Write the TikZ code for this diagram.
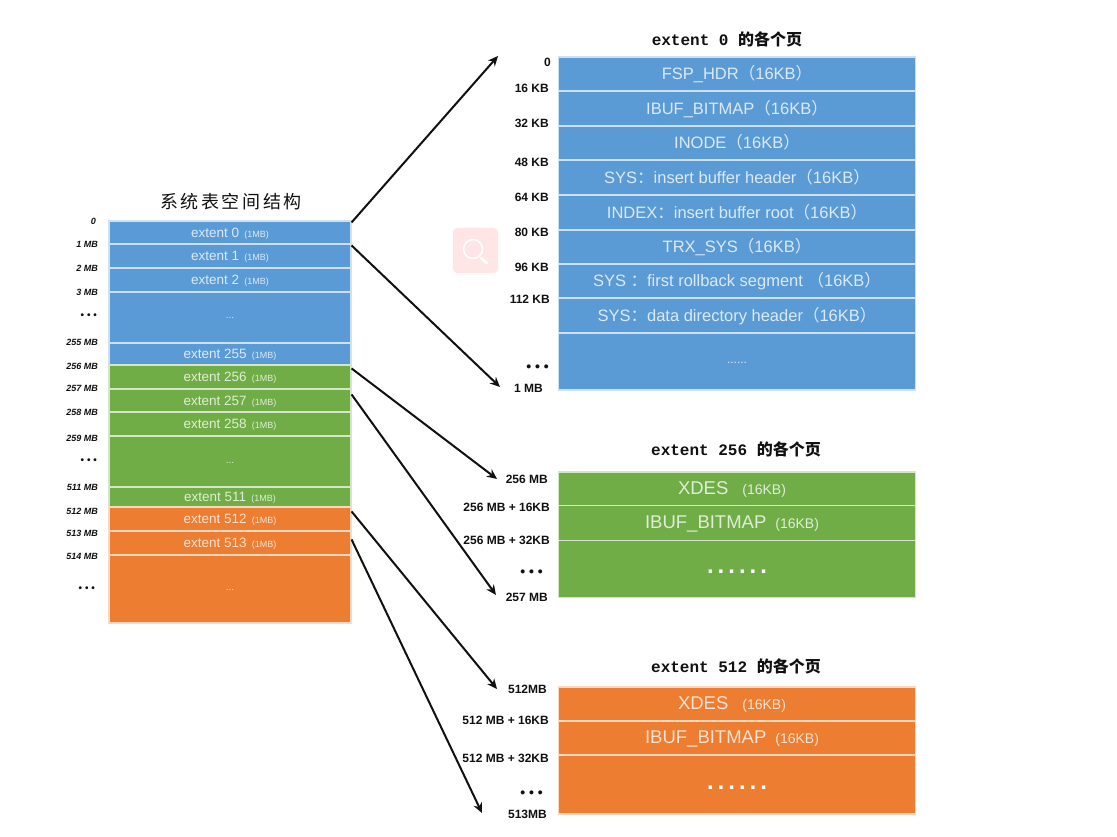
\documentclass[tikz,border=0pt]{standalone}
\usepackage{fontspec}
\setmainfont{Liberation Sans}
\newfontfamily\cjkfont{Noto Sans CJK SC}
\newfontfamily\monofont{Liberation Mono}
\usetikzlibrary{arrows.meta}
\definecolor{extblue}{HTML}{5B9BD5}
\definecolor{extgreen}{HTML}{70AD47}
\definecolor{extorange}{HTML}{ED7D31}
\definecolor{ink}{HTML}{111111}
\newcommand{\fsize}[1]{\fontsize{#1}{#1}\selectfont}
\newcommand{\fw}[1]{{\cjkfont #1}}
\newcommand{\bigdots}{.\hspace{4pt}.\hspace{4pt}.\hspace{4pt}.\hspace{4pt}.\hspace{4pt}.}
\tikzset{
  cell/.style={inner sep=0pt, line width=1.1pt, anchor=center},
  bluecell/.style={cell, fill=extblue, draw=white!70!extblue, text=white!78!extblue},
  greencell/.style={cell, fill=extgreen, draw=white!70!extgreen, text=white!78!extgreen},
  orangecell/.style={cell, fill=extorange, draw=white!70!extorange, text=white!78!extorange},
  extcell/.style={minimum width=242pt, font=\fsize{13.5}, text height=9.5pt, text depth=0pt},
  gapcell/.style={minimum width=242pt, font=\fsize{10}, text height=3pt, text depth=0pt},
  pagecell/.style={minimum width=357pt, font=\fsize{16.5}, text height=13.5pt, text depth=2pt},
  dotcell/.style={minimum width=357pt, font=\fsize{24}\bfseries, text=white, text height=9pt, text depth=0pt},
  leftmark/.style={anchor=east, inner sep=0pt, text=ink, font=\fsize{9}\bfseries\itshape},
  leftdots/.style={anchor=east, inner sep=0pt, text=ink, font=\fsize{10}\bfseries},
  rightmark/.style={anchor=east, inner sep=0pt, text=ink, font=\fsize{12}\bfseries},
  rightdots/.style={anchor=east, inner sep=0pt, text=ink, font=\fsize{14}\bfseries},
  heading/.style={inner sep=0pt, text=ink, font=\fsize{16}\monofont\bfseries},
  link/.style={-{Stealth[length=10pt,width=9pt]}, ink, line width=2pt}
}
\newcommand{\mbtag}{{\fsize{9}\,(1MB)}}
\newcommand{\kbtag}{{\fsize{14}(16KB)}\hspace*{10pt}\null}
\begin{document}
\begin{tikzpicture}[x=1pt, y=-1pt]
  \useasboundingbox (0,0) rectangle (1117,837);
  \fill[white] (0,0) rectangle (1117,837);

  % left stack
  \node[font=\fsize{18}\cjkfont\addfontfeature{LetterSpace=14}, text=ink, inner sep=0pt] (stacktitle) at (231,202) {系统表空间结构};
  \node[bluecell, extcell, minimum height=23pt] (e0) at (230,232.5) {extent 0 \mbtag};
  \node[bluecell, extcell, minimum height=24pt] (e1) at (230,256) {extent 1 \mbtag};
  \node[bluecell, extcell, minimum height=24pt] (e2) at (230,280) {extent 2 \mbtag};
  \node[bluecell, gapcell, minimum height=51pt] (e3) at (230,317.5) {...};
  \node[bluecell, extcell, minimum height=22pt] (e255) at (230,354) {extent 255 \mbtag};
  \node[greencell, extcell, minimum height=24pt] (e256) at (230,377) {extent 256 \mbtag};
  \node[greencell, extcell, minimum height=23pt] (e257) at (230,400.5) {extent 257 \mbtag};
  \node[greencell, extcell, minimum height=24pt] (e258) at (230,424) {extent 258 \mbtag};
  \node[greencell, gapcell, minimum height=51pt] (e259) at (230,461.5) {...};
  \node[greencell, extcell, minimum height=20pt] (e511) at (230,497) {extent 511 \mbtag};
  \node[orangecell, extcell, minimum height=24pt] (e512) at (230,519) {extent 512 \mbtag};
  \node[orangecell, extcell, minimum height=24pt] (e513) at (230,543) {extent 513 \mbtag};
  \node[orangecell, gapcell, minimum height=68pt] (e514) at (230,589) {...};

  % left offsets
  \node[leftmark] (m0) at (96,221.5) {0};
  \node[leftmark] (m1) at (98,244) {1 MB};
  \node[leftmark] (m2) at (98,268) {2 MB};
  \node[leftmark] (m3) at (98,292) {3 MB};
  \node[leftdots] (mdots1) at (97,316.5) {• • •};
  \node[leftmark] (m255) at (98,342) {255 MB};
  \node[leftmark] (m256) at (98,366) {256 MB};
  \node[leftmark] (m257) at (98,388) {257 MB};
  \node[leftmark] (m258) at (98,412.5) {258 MB};
  \node[leftmark] (m259) at (98,438) {259 MB};
  \node[leftdots] (mdots2) at (97,461.5) {• • •};
  \node[leftmark] (m511) at (98,487) {511 MB};
  \node[leftmark] (m512) at (98,511) {512 MB};
  \node[leftmark] (m513) at (98,533) {513 MB};
  \node[leftmark] (m514) at (98,556) {514 MB};
  \node[leftdots] (mdots3) at (95,589.5) {• • •};

  % extent 0 pages
  \node[heading] (title0) at (727,39.5) {extent 0 {\cjkfont\bfseries 的各个页}};
  \node[bluecell, pagecell, minimum height=34pt] (p0) at (737,74) {FSP\_HDR\fw{（}16KB\fw{）}};
  \node[bluecell, pagecell, minimum height=35pt] (p1) at (737,108.5) {IBUF\_BITMAP\fw{（}16KB\fw{）}};
  \node[bluecell, pagecell, minimum height=34pt] (p2) at (737,143) {INODE\fw{（}16KB\fw{）}};
  \node[bluecell, pagecell, minimum height=35pt] (p3) at (737,177.5) {SYS\fw{：}insert buffer header\fw{（}16KB\fw{）}};
  \node[bluecell, pagecell, minimum height=35pt] (p4) at (737,212.5) {INDEX\fw{：}insert buffer root\fw{（}16KB\fw{）}};
  \node[bluecell, pagecell, minimum height=34pt] (p5) at (737,247) {TRX\_SYS\fw{（}16KB\fw{）}};
  \node[bluecell, pagecell, minimum height=34pt] (p6) at (737,281) {SYS \fw{：}first rollback segment \fw{（}16KB\fw{）}};
  \node[bluecell, pagecell, minimum height=35pt] (p7) at (737,315.5) {SYS\fw{：}data directory header\fw{（}16KB\fw{）}};
  \node[bluecell, pagecell, minimum height=57pt, font=\fsize{12}, text height=4pt, text depth=0pt] (p8) at (737,361.5) {......};
  \node[rightmark] (k0) at (551,62) {0};
  \node[rightmark] (k16) at (549,88) {16 KB};
  \node[rightmark] (k32) at (549,123) {32 KB};
  \node[rightmark] (k48) at (549,162) {48 KB};
  \node[rightmark] (k64) at (549,197) {64 KB};
  \node[rightmark] (k80) at (549,232) {80 KB};
  \node[rightmark] (k96) at (549,267) {96 KB};
  \node[rightmark] (k112) at (550,299) {112 KB};
  \node[rightdots] (kdots) at (549,368) {• • •};
  \node[rightmark] (k1m) at (543,388) {1 MB};

  % extent 256 pages
  \node[heading] (title256) at (736,449.5) {extent 256 {\cjkfont\bfseries 的各个页}};
  \node[greencell, pagecell, minimum height=34pt, font=\fsize{18.5}] (g0) at (737,489) {XDES\hspace{14pt}\kbtag};
  \node[greencell, pagecell, minimum height=35pt, font=\fsize{18.5}] (g1) at (737,523) {IBUF\_BITMAP\hspace{9pt}\kbtag};
  \node[greencell, dotcell, minimum height=57pt] (g2) at (737,569) {\bigdots};
  \node[rightmark] (gm0) at (548,479) {256 MB};
  \node[rightmark] (gm1) at (550,507) {256 MB + 16KB};
  \node[rightmark] (gm2) at (550,540) {256 MB + 32KB};
  \node[rightdots] (gdots) at (543,573) {• • •};
  \node[rightmark] (gm3) at (548,597) {257 MB};

  % extent 512 pages
  \node[heading] (title512) at (736,666.5) {extent 512 {\cjkfont\bfseries 的各个页}};
  \node[orangecell, pagecell, minimum height=34pt, font=\fsize{18.5}] (o0) at (737,704) {XDES\hspace{14pt}\kbtag};
  \node[orangecell, pagecell, minimum height=34pt, font=\fsize{18.5}] (o1) at (737,738) {IBUF\_BITMAP\hspace{9pt}\kbtag};
  \node[orangecell, dotcell, minimum height=59pt] (o2) at (737,784.5) {\bigdots};
  \node[rightmark] (om0) at (547,689) {512MB};
  \node[rightmark] (om1) at (549,720.5) {512 MB + 16KB};
  \node[rightmark] (om2) at (549,758) {512 MB + 32KB};
  \node[rightdots] (odots) at (543,794) {• • •};
  \node[rightmark] (om3) at (547,814) {513MB};

  % search badge
  \fill[red!10, rounded corners=4pt] (453,228) rectangle (498,273);
  \draw[white, line width=1.6pt] (473,249) circle (9.5pt);
  \draw[white, line width=3pt, line cap=round] (481,258) -- (487,263);

  % arrows
  \coordinate (t0) at (498,56);
  \coordinate (t1) at (500,387);
  \coordinate (t256) at (497,479);
  \coordinate (t257) at (496,595);
  \coordinate (t512) at (497,689);
  \coordinate (t513) at (482,813);
  \draw[link] ([yshift=-2pt]e0.north east) -- (t0);
  \draw[link] ([yshift=-2pt]e1.north east) -- (t1);
  \draw[link] ([yshift=-4pt]e256.north east) -- (t256);
  \draw[link] ([yshift=-6pt]e257.north east) -- (t257);
  \draw[link] ([yshift=-5pt]e512.north east) -- (t512);
  \draw[link] ([yshift=-9pt]e513.north east) -- (t513);
\end{tikzpicture}
\end{document}
